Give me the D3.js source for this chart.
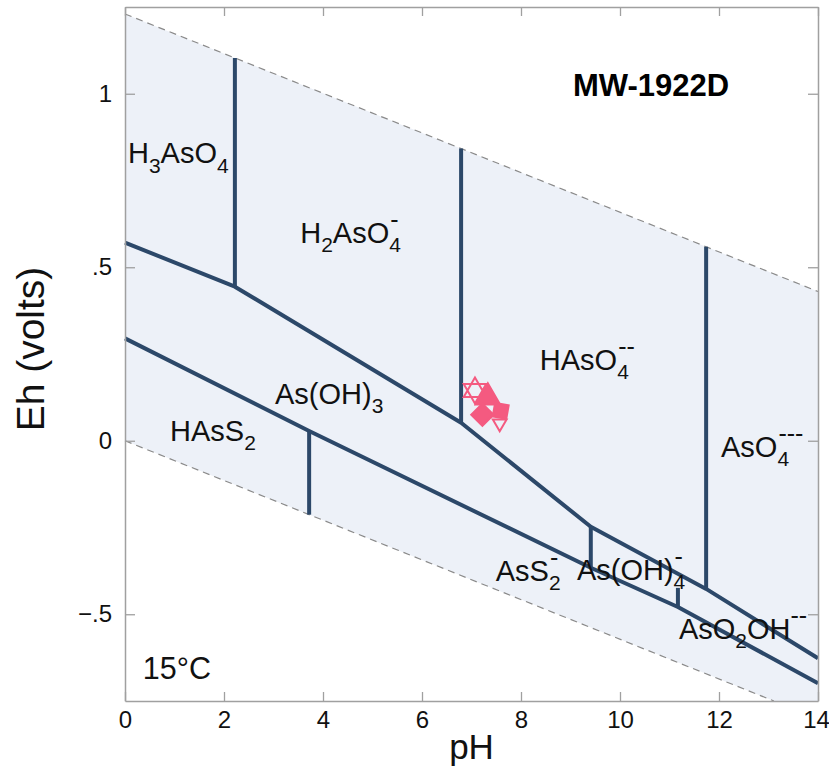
<!DOCTYPE html>
<html>
<head>
<meta charset="utf-8">
<script src="https://cdn.jsdelivr.net/npm/d3@7/dist/d3.min.js"></script>
<style>
  html, body { margin: 0; padding: 0; background: #fff; }
  svg text { font-family: "Liberation Sans", Arial, Helvetica, sans-serif; }
</style>
</head>
<body>
<svg id="chart" width="829" height="774"></svg>
<script>
// ---------------- data ----------------
const pHTicks = [0, 2, 4, 6, 8, 10, 12, 14];
const pHTickLabels = ["0", "2", "4", "6", "8", "10", "12", "14"];
const ehTicks = [-0.5, 0, 0.5, 1];
const ehTickLabels = ["\u2212.5", "0", ".5", "1"];

// water stability limits (pH, Eh)
const waterUpper = [[0, 1.23], [14, 0.43]];
const waterLower = [[0, 0.0], [13.11, -0.75]];

// predominance boundaries (pH, Eh)
const boundaryUpper = [[0, 0.571], [2.22, 0.444], [6.79, 0.052], [9.41, -0.248], [11.74, -0.427], [14, -0.627]];
const boundaryLower = [[0, 0.295], [3.72, 0.028], [9.41, -0.366], [11.17, -0.479], [14, -0.699]];
const verticalPH = [2.22, 6.79, 11.74, 3.72, 9.41, 11.17];
const verticalTop = [1.103, 0.842, 0.559, 0.028, -0.248, -0.424];
const verticalBottom = [0.444, 0.052, -0.427, -0.213, -0.366, -0.479];

// species labels: anchor (pH, Eh) and parts [text, kind, stackedSup]
const speciesPH = [0.06, 3.54, 8.38, 3.03, 0.91, 12.04, 7.49, 9.13, 11.19];
const speciesEh = [0.80, 0.57, 0.204, 0.106, 0.0, -0.046, -0.403, -0.40, -0.571];
const speciesParts = [
  [["H"], ["3", "sub"], ["AsO"], ["4", "sub"]],
  [["H"], ["2", "sub"], ["AsO"], ["4", "sub", "-"]],
  [["HAsO"], ["4", "sub", "--"]],
  [["As(OH)"], ["3", "sub"]],
  [["HAsS"], ["2", "sub"]],
  [["AsO"], ["4", "sub", "---"]],
  [["AsS"], ["2", "sub", "-"]],
  [["As(OH)"], ["4", "sub", "-"]],
  [["AsO"], ["2", "sub"], ["OH"], ["--", "sup"]]
];

// samples
const samplePH = [7.07, 7.33, 7.22, 7.59, 7.57];
const sampleEh = [0.145, 0.125, 0.075, 0.086, 0.050];
const sampleMarker = ["hexagram", "triangle", "diamond", "square", "triangleDown"];
const sampleFilled = [false, true, true, true, false];

const titleText = "MW-1922D";
const titlePH = 9.05, titleEh = 0.994;
const tempText = "15\u00B0C";
const tempPH = 0.36, tempEh = -0.686;

// ---------------- layout ----------------
const svg = d3.select("#chart");
const mLeft = 125, mRight = 818, mTop = 7, mBottom = 701;
const x = d3.scaleLinear().domain([0, 14]).range([mLeft, mRight]);
const y = d3.scaleLinear().domain([-0.75, 1.25]).range([mBottom, mTop]);

const lineCol = "#2c4869";
const fillCol = "#edf1f8";
const markCol = "#f45a80";
const axisCol = "#a0a0a0";

svg.append("rect").attr("width", 829).attr("height", 774).attr("fill", "#fff");

const ln = d3.line().x(d => x(d[0])).y(d => y(d[1]));

// stability field fill
const band = waterUpper.concat([[14, -0.75]]).concat(waterLower.slice().reverse());
svg.append("path").attr("d", ln(band) + "Z").attr("fill", fillCol);

// water limits dashed
[waterUpper, waterLower].forEach(w => {
  svg.append("path").attr("d", ln(w))
    .attr("fill", "none").attr("stroke", "#8a8a8a")
    .attr("stroke-width", 1.2).attr("stroke-dasharray", "7,5");
});

// boundaries
[boundaryUpper, boundaryLower].forEach(b => {
  svg.append("path").attr("d", ln(b)).attr("fill", "none")
    .attr("stroke", lineCol).attr("stroke-width", 4).attr("stroke-linejoin", "round");
});
verticalPH.forEach((p, i) => {
  svg.append("line")
    .attr("x1", x(p)).attr("x2", x(p))
    .attr("y1", y(verticalTop[i])).attr("y2", y(verticalBottom[i]))
    .attr("stroke", lineCol).attr("stroke-width", 4);
});

// ---------------- labels ----------------
const baseSize = 29, subSize = 21, supSize = 25;
const meas = svg.append("text").attr("x", -1000).attr("y", -1000);
function textWidth(t, size) {
  meas.attr("font-size", size).text(t);
  return meas.node().getComputedTextLength();
}
function drawSpecies(parts, px, py) {
  const g = svg.append("g");
  let cx = px;
  parts.forEach(p => {
    const [t, kind, stack] = p;
    if (!kind) {
      g.append("text").attr("x", cx).attr("y", py).attr("font-size", baseSize).attr("fill", "#111").text(t);
      cx += textWidth(t, baseSize);
    } else if (kind === "sub") {
      const w = textWidth(t, subSize);
      g.append("text").attr("x", cx).attr("y", py + 9.5).attr("font-size", subSize).attr("fill", "#111").text(t);
      if (stack) {
        g.append("text").attr("x", cx + 1).attr("y", py - 14.5).attr("font-size", supSize).attr("fill", "#111").text(stack);
      }
      cx += w;
    } else if (kind === "sup") {
      g.append("text").attr("x", cx).attr("y", py - 14.5).attr("font-size", supSize).attr("fill", "#111").text(t);
      cx += textWidth(t, supSize);
    }
  });
}
speciesParts.forEach((parts, i) => drawSpecies(parts, x(speciesPH[i]), y(speciesEh[i])));

svg.append("text").attr("x", x(tempPH)).attr("y", y(tempEh))
  .attr("font-size", 30.5).attr("fill", "#111").text(tempText);
svg.append("text").attr("x", x(titlePH)).attr("y", y(titleEh))
  .attr("font-size", 31).attr("font-weight", "bold").attr("fill", "#000").text(titleText);
meas.remove();

// ---------------- markers ----------------
const hexagram = {
  draw(ctx, size) {
    const r = Math.sqrt(size) * 0.75;
    for (let k = 0; k < 2; k++) {
      const off = k === 0 ? -Math.PI / 2 : Math.PI / 2;
      for (let j = 0; j < 3; j++) {
        const a = off + j * 2 * Math.PI / 3;
        const px = r * Math.cos(a), py = r * Math.sin(a);
        if (j === 0) ctx.moveTo(px, py); else ctx.lineTo(px, py);
      }
      ctx.closePath();
    }
  }
};
const triDown = {
  draw(ctx, size) {
    const r = Math.sqrt(size) * 0.65;
    ctx.moveTo(0, r);
    ctx.lineTo(r * 0.866, -r * 0.5);
    ctx.lineTo(-r * 0.866, -r * 0.5);
    ctx.closePath();
  }
};
const symType = { hexagram: hexagram, triangle: d3.symbolTriangle, diamond: d3.symbolSquare, square: d3.symbolSquare, triangleDown: triDown };
const symSize = { hexagram: 300, triangle: 260, diamond: 250, square: 190, triangleDown: 150 };
const symRot = { hexagram: 0, triangle: 0, diamond: 45, square: 10, triangleDown: 0 };
samplePH.forEach((p, i) => {
  const m = sampleMarker[i];
  svg.append("path")
    .attr("transform", `translate(${x(p)},${y(sampleEh[i])}) rotate(${symRot[m]})`)
    .attr("d", d3.symbol().type(symType[m]).size(symSize[m])())
    .attr("fill", sampleFilled[i] ? markCol : "none")
    .attr("stroke", markCol).attr("stroke-width", 2);
});

// ---------------- axes ----------------
const styleAxis = g => {
  g.select(".domain").attr("stroke", axisCol).attr("stroke-width", 1.5);
  g.selectAll(".tick line").attr("stroke", axisCol).attr("stroke-width", 1.3);
  g.selectAll(".tick text").attr("font-family", "Liberation Sans, Arial, sans-serif").attr("fill", "#111").attr("font-size", 24);
};
const xAxisG = svg.append("g").attr("transform", `translate(0,${mBottom})`)
  .call(d3.axisBottom(x).tickValues(pHTicks).tickFormat((d, i) => pHTickLabels[i]).tickSize(-9).tickSizeOuter(0).tickPadding(10))
  .call(styleAxis);
// keep the last label inside the picture
xAxisG.selectAll(".tick text").filter((d, i) => i === pHTicks.length - 1).attr("dx", -2);
svg.append("g").attr("transform", `translate(0,${mTop})`)
  .call(d3.axisTop(x).tickValues(pHTicks).tickFormat("").tickSize(-9).tickSizeOuter(0))
  .call(styleAxis);
svg.append("g").attr("transform", `translate(${mLeft},0)`)
  .call(d3.axisLeft(y).tickValues(ehTicks).tickFormat((d, i) => ehTickLabels[i]).tickSize(-10).tickSizeOuter(0).tickPadding(13))
  .call(styleAxis);
svg.append("g").attr("transform", `translate(${mRight},0)`)
  .call(d3.axisRight(y).tickValues(ehTicks).tickFormat("").tickSize(-10).tickSizeOuter(0))
  .call(styleAxis);

// axis titles
svg.append("text").attr("x", (mLeft + mRight) / 2).attr("y", 759)
  .attr("text-anchor", "middle").attr("font-size", 35).attr("fill", "#111").text("pH");
svg.append("text").attr("transform", `translate(44,349) rotate(-90)`)
  .attr("text-anchor", "middle").attr("font-size", 39).attr("fill", "#111").text("Eh (volts)");
</script>
</body>
</html>
